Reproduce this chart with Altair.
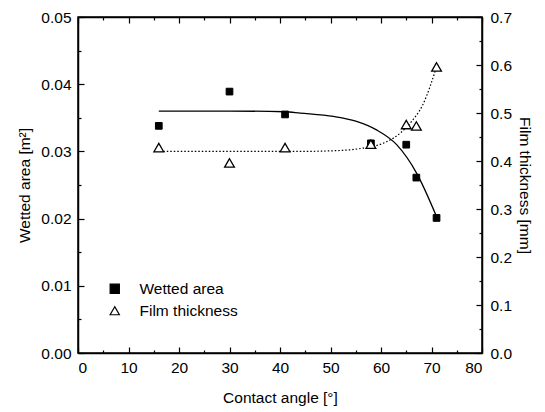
import altair as alt
import pandas as pd

# measured points
angle_area = [16, 30, 41, 58, 65, 67, 71]
wetted_area = [0.0338, 0.0389, 0.0355, 0.0312, 0.0310, 0.0261, 0.0201]
angle_film = [16, 30, 41, 58, 65, 67, 71]
film_thickness = [0.428, 0.396, 0.428, 0.435, 0.476, 0.473, 0.596]

# fitted curves
fit_area_x = [16, 30, 41, 44, 50.6, 55, 59.1, 63.1, 67.1, 71]
fit_area_y = [0.0360, 0.0360, 0.0359, 0.0357, 0.0352, 0.0345, 0.0332, 0.0310, 0.0267, 0.0203]
fit_film_x = [15.5, 30, 44, 52, 56.5, 61.1, 63.8, 65.7, 68.4, 71]
fit_film_y = [0.420, 0.420, 0.420, 0.422, 0.427, 0.440, 0.458, 0.478, 0.520, 0.596]

series_names = ["Wetted area", "Film thickness"]

x_ticks = list(range(0, 81, 5))
yl_ticks = [round(i * 0.005, 3) for i in range(11)]
yr_ticks = [round(i * 0.05, 2) for i in range(15)]

FONT = "Liberation Sans"
FS = 15.5

area_df = pd.DataFrame({"angle": angle_area, "val": wetted_area, "series": series_names[0]})
film_df = pd.DataFrame({"angle": angle_film, "val": film_thickness, "series": series_names[1]})
fit_area_df = pd.DataFrame({"angle": fit_area_x, "val": fit_area_y})
fit_film_df = pd.DataFrame({"angle": fit_film_x, "val": fit_film_y})


def tick_cond(test):
    return {"condition": {"test": test, "value": -6}, "value": -3}


common_axis = dict(
    labelFont=FONT, titleFont=FONT, labelFontSize=FS, titleFontSize=FS,
    labelColor="black", titleColor="black", titleFontWeight="normal",
    domainColor="black", domainWidth=1.5, tickColor="black", tickWidth=1.2,
    grid=False,
)

x_bottom = alt.Axis(
    values=x_ticks, title="Contact angle [°]", orient="bottom",
    labelExpr="datum.value % 10 === 0 ? datum.label : ''",
    tickSize=tick_cond("datum.value % 10 === 0"), labelPadding=13, titlePadding=15,
    **common_axis,
)
x_top = alt.Axis(
    values=x_ticks, title=None, orient="top", labels=False,
    tickSize=tick_cond("datum.value % 10 === 0"),
    **common_axis,
)
y_left = alt.Axis(
    values=yl_ticks, title="Wetted area [m²]", orient="left", format=".2f",
    labelExpr="round(datum.value * 1000) % 10 === 0 ? datum.label : ''",
    tickSize=tick_cond("round(datum.value * 1000) % 10 === 0"), labelPadding=13, titlePadding=8,
    **common_axis,
)
y_right = alt.Axis(
    values=yr_ticks, title="Film thickness [mm]", orient="right", format=".1f",
    labelExpr="round(datum.value * 100) % 10 === 0 ? datum.label : ''",
    tickSize=tick_cond("round(datum.value * 100) % 10 === 0"), labelPadding=14, titlePadding=5,
    **common_axis,
)

x_scale = alt.Scale(domain=[0, 80], nice=False)
yl_scale = alt.Scale(domain=[0, 0.05], nice=False)
yr_scale = alt.Scale(domain=[0, 0.7], nice=False)

shape_scale = alt.Scale(domain=series_names, range=["square", "triangle-up"])
fill_scale = alt.Scale(domain=series_names, range=["black", "white"])
stroke_scale = alt.Scale(domain=series_names, range=["black", "black"])
legend = alt.Legend(
    title=None, orient="none", legendX=29, legendY=264, labelFont=FONT, labelFontSize=FS,
    labelColor="black", symbolSize=85, symbolStrokeWidth=1.2,
    rowPadding=5, labelOffset=17,
)

area_line = alt.Chart(fit_area_df).mark_line(color="black", strokeWidth=1.3, interpolate="monotone").encode(
    x=alt.X("angle:Q", scale=x_scale, axis=x_bottom),
    y=alt.Y("val:Q", scale=yl_scale, axis=y_left),
)
area_pts = alt.Chart(area_df).mark_point(filled=True, strokeWidth=1, size=45, opacity=1).encode(
    x=alt.X("angle:Q", scale=x_scale, axis=x_bottom),
    y=alt.Y("val:Q", scale=yl_scale, axis=y_left),
    shape=alt.Shape("series:N", scale=shape_scale, legend=legend),
    fill=alt.Fill("series:N", scale=fill_scale, legend=legend),
    stroke=alt.Stroke("series:N", scale=stroke_scale, legend=legend),
)
film_line = alt.Chart(fit_film_df).mark_line(color="black", strokeWidth=1.2, strokeDash=[1.5, 2], interpolate="monotone").encode(
    x=alt.X("angle:Q", scale=x_scale, axis=x_top),
    y=alt.Y("val:Q", scale=yr_scale, axis=y_right),
)
film_pts = alt.Chart(film_df).mark_point(filled=True, strokeWidth=1.3, size=95, opacity=1).encode(
    x=alt.X("angle:Q", scale=x_scale, axis=x_top),
    y=alt.Y("val:Q", scale=yr_scale, axis=y_right),
    shape=alt.Shape("series:N", scale=shape_scale, legend=legend),
    fill=alt.Fill("series:N", scale=fill_scale, legend=legend),
    stroke=alt.Stroke("series:N", scale=stroke_scale, legend=legend),
)

left = alt.layer(area_line, area_pts)
right = alt.layer(film_line, film_pts)

chart = alt.layer(left, right).resolve_scale(y="independent").resolve_axis(x="independent", y="independent").properties(
    width=404, height=336,
    autosize=alt.AutoSizeParams(type="none"),
    padding={"left": 78, "top": 17, "right": 63, "bottom": 59},
    background="white",
).configure_view(stroke="black", strokeWidth=1.5)

chart.save("out.html", embed_options={"renderer": "svg", "actions": False})
